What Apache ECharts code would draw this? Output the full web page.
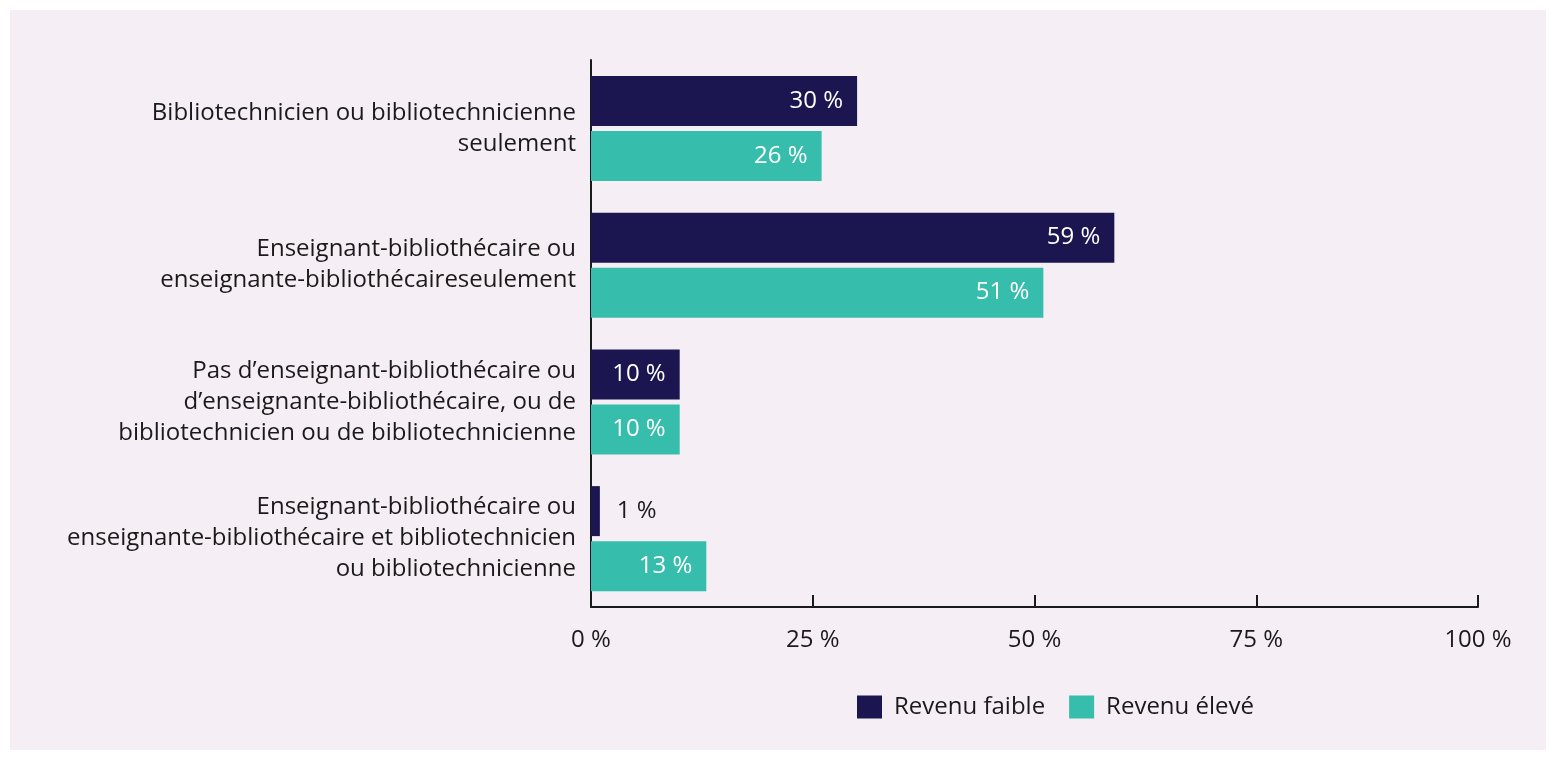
<!DOCTYPE html>
<html>
<head>
<meta charset="utf-8">
<script src="https://cdn.jsdelivr.net/npm/echarts@6/dist/echarts.min.js"></script>
<style>
  html, body { margin: 0; padding: 0; background: #ffffff; }
  #chart { width: 1556px; height: 760px; }
</style>
</head>
<body>
<div id="chart"></div>
<script>
// categories (top to bottom)
const categories = [
  'Bibliotechnicien ou bibliotechnicienne\nseulement',
  'Enseignant-bibliothécaire ou\nenseignante-bibliothécaireseulement',
  'Pas d’enseignant-bibliothécaire ou\nd’enseignante-bibliothécaire, ou de\nbibliotechnicien ou de bibliotechnicienne',
  'Enseignant-bibliothécaire ou\nenseignante-bibliothécaire et bibliotechnicien\nou bibliotechnicienne'
]
const seriesNames = ['Revenu faible', 'Revenu élevé']
const revenuFaible = [30, 59, 10, 1]
const revenuEleve = [26, 51, 10, 13]
const xTicks = [0, 25, 50, 75, 100]

const font = '"Open Sans", sans-serif'
const fs = 24
const navy = '#1b1650'
const teal = '#36bdab'

function barData(values) {
  // small bars get their label outside, in dark text
  return values.map(v => v < 5 ? {
    value: v,
    label: { position: 'right', distance: 17, color: '#1a1a1a' }
  } : v)
}

const chart = echarts.init(document.getElementById('chart'))
const option = {
  animation: false,
  textStyle: { fontFamily: font },
  graphic: [{
    type: 'rect',
    z: -10,
    shape: { x: 10, y: 10, width: 1536, height: 740 },
    style: { fill: '#f5eef5' }
  }],
  grid: { left: 591, right: 78, top: 60, height: 547 },
  legend: {
    data: seriesNames,
    left: 857,
    top: 695,
    padding: 0,
    itemWidth: 25,
    itemHeight: 23,
    itemGap: 24,
    textStyle: { fontSize: fs, color: '#1a1a1a', fontFamily: font, padding: [0, 0, 0, 7] },
    icon: 'rect'
  },
  xAxis: {
    type: 'value',
    min: xTicks[0],
    max: xTicks[xTicks.length - 1],
    interval: 25,
    axisLine: { show: true, lineStyle: { color: '#1a1a1a', width: 2 } },
    axisTick: { show: true, inside: true, length: 12, lineStyle: { color: '#1a1a1a', width: 2 } },
    splitLine: { show: false },
    axisLabel: { formatter: '{value} %', fontSize: fs, color: '#1a1a1a', margin: 21, fontFamily: font }
  },
  yAxis: {
    type: 'category',
    inverse: true,
    data: categories,
    axisLine: { show: true, lineStyle: { color: '#1a1a1a', width: 2 } },
    axisTick: { show: false },
    axisLabel: { fontSize: fs, color: '#1a1a1a', margin: 15, lineHeight: 31, align: 'right', fontFamily: font }
  },
  series: [
    {
      name: seriesNames[0],
      type: 'bar',
      data: barData(revenuFaible),
      barWidth: 50,
      barGap: '10%',
      itemStyle: { color: navy },
      label: { show: true, position: 'insideRight', distance: 14, color: '#ffffff', fontSize: fs, fontFamily: font, formatter: '{c} %' }
    },
    {
      name: seriesNames[1],
      type: 'bar',
      data: barData(revenuEleve),
      barWidth: 50,
      barGap: '10%',
      itemStyle: { color: teal },
      label: { show: true, position: 'insideRight', distance: 14, color: '#ffffff', fontSize: fs, fontFamily: font, formatter: '{c} %' }
    }
  ]
}
chart.setOption(option)
</script>
</body>
</html>
